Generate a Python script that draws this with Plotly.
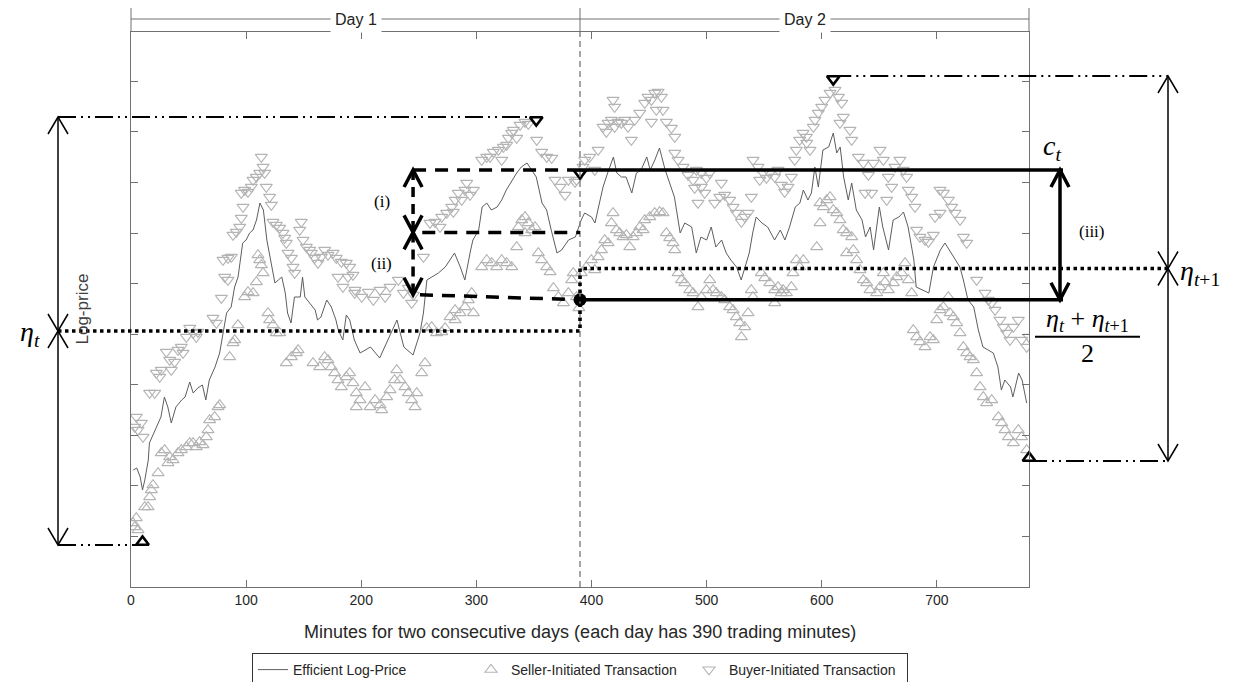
import plotly.graph_objects as go

# ------------------------------------------------------------------ data
DAY_LEN = 390
TOTAL_MIN = 780
day_names = ["Day 1", "Day 2"]
x_tick_values = [0, 100, 200, 300, 400, 500, 600, 700]

# efficient log-price (minute, value in arbitrary log-price units)
price_minutes = [2, 5, 8, 10, 12, 15, 16, 21, 24, 26, 29, 32, 35, 39, 44, 47, 51, 54, 58, 62,
                 65, 68, 73, 77, 80, 83, 87, 90, 93, 97, 100, 103, 106, 109, 112, 115, 118, 121, 125, 128,
                 131, 134, 136, 139, 142, 147, 149, 151, 155, 160, 162, 165, 170, 174, 178, 180, 184, 187, 190, 194,
                 199, 208, 216, 222, 231, 237, 245, 251, 254, 257, 261, 267, 273, 277, 281, 286, 290, 295, 297, 302,
                 305, 309, 313, 318, 322, 326, 331, 335, 339, 344, 348, 352, 357, 361, 365, 370, 374, 380, 386, 391,
                 394, 400, 403, 406, 410, 414, 419, 422, 426, 430, 435, 439, 443, 448, 451, 455, 459, 464, 468, 472,
                 477, 481, 487, 491, 495, 500, 504, 508, 513, 517, 521, 526, 530, 534, 537, 540, 543, 548, 553, 559,
                 564, 568, 572, 577, 581, 584, 588, 591, 594, 597, 601, 606, 610, 613, 616, 619, 623, 626, 630, 635,
                 638, 642, 645, 650, 653, 658, 662, 667, 671, 675, 680, 682, 687, 693, 697, 703, 707, 711, 716, 720,
                 723, 727, 732, 736, 740, 745, 749, 753, 756, 759, 764, 766, 771, 774, 778]
price_values = [117, 119, 110, 97, 107, 127, 144, 157, 164, 170, 190, 180, 164, 180, 187, 190, 205, 194, 199, 202,
                187, 207, 220, 234, 254, 274, 280, 300, 310, 344, 347, 354, 357, 367, 384, 377, 347, 327, 304, 307,
                310, 294, 274, 264, 290, 290, 310, 290, 284, 277, 267, 270, 287, 280, 267, 257, 247, 272, 267, 247,
                234, 240, 229, 244, 267, 240, 232, 254, 274, 307, 310, 314, 320, 327, 334, 320, 307, 337, 347, 357,
                380, 384, 377, 380, 387, 397, 407, 414, 420, 424, 417, 410, 384, 377, 357, 334, 337, 347, 350, 367,
                374, 370, 364, 380, 400, 414, 430, 414, 410, 410, 394, 414, 417, 430, 417, 427, 439, 417, 404, 390,
                354, 364, 360, 334, 350, 347, 360, 340, 347, 334, 327, 320, 307, 324, 334, 354, 370, 364, 360, 347,
                357, 347, 360, 380, 384, 397, 387, 394, 420, 400, 437, 440, 454, 434, 440, 410, 387, 404, 377, 367,
                350, 360, 337, 380, 360, 337, 367, 370, 375, 360, 327, 300, 297, 294, 320, 337, 344, 337, 327, 320,
                307, 287, 280, 257, 240, 237, 234, 220, 197, 207, 200, 190, 214, 207, 184]

# seller-initiated transactions
seller_minutes = [1.7, 4.6, 3.2, 6.1, 10, 11.9, 14.8, 16.2, 17.7, 19.1, 23.5, 26.3, 29.2, 32.1, 33.6, 36.5, 40.8, 43.7,
                  48.1, 51.0, 53.9, 56.7, 59.6, 62.5, 65.4, 66.9, 68.3, 72.7, 75.6, 77.0, 85.7, 88.6, 90.0, 92.9,
                  98.7, 101.6, 106.0, 108.9, 110.3, 111.8, 113.2, 114.7, 119.0, 120.4, 123.3, 126.2, 129.1, 134.9,
                  139.3, 143.6, 145.1, 158.1, 163.9, 168.2, 171.1, 174.0, 176.9, 179.8, 182.7, 187.0, 189.9, 192.8,
                  195.7, 195.7,
                  198.9, 203.3, 207.6, 212, 216.3, 217.8, 222.1, 225, 228.9, 230.8, 233.7, 238, 240.9, 243.8, 246.7,
                  248.2, 252.5, 255.4, 256.8, 261.2, 265.5, 269.9, 272.8, 277.1, 281.5, 285.8, 290.1, 293, 295.9,
                  297.4, 281.5, 304.6, 309, 313.3, 317.6, 322, 326.3, 330.7, 335, 336.5, 339.4, 342.3, 345.1, 348,
                  350.9, 342.3, 353.8, 356.7, 361.1, 364, 366.9, 371.2, 375.6, 379.9, 382.8, 384.2, 387, 389,
                  391.2, 395.5, 399.9, 402.8, 405.7, 408.6, 411.5, 414.4, 417.3, 418.7, 421.6, 424.5, 427.4, 430.3,
                  433.2, 436.1, 439, 441.9, 444.8, 446.2, 450.6, 454.9, 459.2, 462.1, 465, 467.9, 470.8, 472.3,
                  475.2, 478.1, 481, 485.3, 488.2, 492.5, 495.4, 499.8, 502.7, 505.6, 508.4, 512.8, 515.7, 520, 523,
                  525.8, 528.7, 530.2, 533.1, 536, 538.8, 540.3, 547.5, 550.4, 554.8, 559.1, 562, 566.4, 569.3,
                  573.6, 575, 577.9, 580.8, 559.1, 564.9,
                  584, 595.6, 598.5, 601.4, 604.3, 607.2, 610, 613, 598.5, 615.8, 618.7, 621.6, 626, 621.6, 627.4,
                  630.3, 633.2, 636.1, 639, 641.9, 647.7, 650.6, 654.9, 657.8, 662.2, 665.1, 669.4, 672.3, 675.2,
                  678.1, 653.5, 679.5, 682.4, 685.3, 689.7, 694, 696.9, 699.8, 702.7, 705.6, 709.9, 711.4, 714.3,
                  717.2, 720.1, 723, 725.9, 728.8, 731.7, 734.5, 737.5, 740.3, 743.2, 747.6, 753.4, 756.3, 759.2,
                  762.1, 766.4, 770.7, 773.6, 778, 780]
seller_prices = [64, 69, 60, 57, 45, 80, 80, 90, 97, 102, 114, 134, 137, 124, 130, 127, 134, 137,
                 140, 144, 144, 140, 145, 142, 150, 157, 167, 170, 180, 182, 230, 244, 247, 262,
                 290, 295, 294, 305, 332, 327, 322, 314, 274, 267, 262, 254, 254, 224,
                 230, 234, 237, 224, 220, 230, 227, 220, 214, 207, 200, 210, 214, 204,
                 194, 180,
                 187, 200, 180, 187, 182, 177, 190, 197, 207, 217, 207, 200, 194, 187, 180,
                 194, 214, 224, 259, 260, 254, 255, 259, 270, 277, 274, 280, 287, 294,
                 274, 267, 320, 327, 324, 320, 327, 324, 320, 340, 360, 367, 370, 364, 357,
                 360, 354, 334, 327, 320, 315, 299, 290, 284, 294, 307, 314, 290, 279,
                 314, 320, 327, 317, 330, 337, 347, 344, 364, 374, 357, 354, 350, 352,
                 340, 350, 354, 360, 357, 367, 370, 374, 375, 374, 354, 349, 344, 337,
                 314, 307, 304, 297, 294, 280, 290, 297, 307, 297, 294, 290, 287, 280, 277,
                 270, 264, 250, 260, 274, 297, 290, 314, 309, 304, 297, 300, 297, 294,
                 300, 314, 327, 320, 284, 294,
                 327, 340, 364, 380, 387, 390, 377, 374, 384, 367, 357, 354, 350, 334, 337,
                 327, 317, 307, 304, 297, 294, 300, 305, 297, 304, 310, 314, 324, 307,
                 294, 314, 257, 250, 245, 240, 250, 247, 267, 277, 280, 290, 274, 270,
                 264, 254, 240, 234, 230, 227, 214, 200, 190, 184, 187, 170, 164, 157,
                 150, 144, 157, 150, 137, 129]

# buyer-initiated transactions
buyer_minutes = [4.6, 9.0, 6.1, 10.4, 3.2, 16.2, 20.6, 22.0, 24.9, 26.3, 30.7, 33.6, 35.0, 37.9, 40.8, 43.7, 45.2,
                 48.1, 51.0, 53.9, 56.7, 58.2, 71.2, 74.1, 78.5, 81.4, 84.2, 79.9, 84.2, 87.1, 88.6, 91.5, 94.4,
                 95.8, 97.3, 95.8, 98.7, 101.6, 104.5, 106.0, 108.9, 111.8, 114.7, 116.1, 113.2, 117.5, 120.4,
                 121.9, 123.3, 126.2, 129.1, 132.0, 133.5, 134.9, 136.4, 139.3, 140.7, 142.2, 147.9, 146.5, 149.4,
                 152.3, 155.2, 156.6, 159.5, 162.4, 165.3, 168.2, 171.1, 175.5, 178.3, 182.7, 187.0, 189.9, 179.8,
                 184.1, 188.5, 192.8, 194.3,
                 194.6, 200.4, 206.2, 210.5, 216.3, 220.7, 225, 232.2, 236.6, 240.9, 243.8, 245.3, 254, 259.7,
                 264.1, 268.4, 269.9, 274.2, 278.6, 281.5, 280, 284.3, 287.2, 290.1, 294.5, 291.6, 297.4, 304.6,
                 309, 311.9, 314.7, 319.1, 322, 323.4, 326.3, 327.8, 330.7, 332.1, 335, 337.9, 342.3, 345.1, 352,
                 352.4, 356.7, 361.1, 365.4, 368.3, 372.7, 377, 379.9, 385.7, 387, 390,
                 392.6, 394.1, 398.4, 402.8, 405.7, 410, 414.4, 417.3, 420.1, 423, 425.9, 428.8, 431.7, 434.6,
                 437.5, 412.9, 418.7, 420.1, 441.9, 446.2, 449.1, 452, 454.9, 457.8, 460.7, 456.3, 452, 462.1, 465,
                 469.4, 472.3, 472.3, 475.2, 479.5, 483.8, 488.2, 491.1, 495.4, 499.8, 502.7, 489.6, 495.4, 492.5,
                 498.3, 507, 511.4, 515.7, 520, 523, 525.8, 530.2, 533.1, 536, 538.8, 512.8, 540.3, 544.6, 549,
                 551.9, 554.8, 559.1, 562, 564.9, 567.8, 570.7, 573.6, 546.1, 576.5, 577.9, 580.8, 583.7, 586.6,
                 586.9, 589.8, 592.7, 594.1, 597, 599.9, 602.8, 607.2, 610, 611.5, 614.4, 617.3, 618.7, 615.8,
                 624.5, 626, 631.8, 636.1, 640.5, 644.8, 650.6, 653.5, 657.8, 660.7, 663.6, 667.9, 670.8, 673.7,
                 675.2, 678.1, 681, 637.6, 643.3, 656.4, 682.4, 685.3, 689.7, 692.6, 696.9, 698.4, 702.7, 705.6,
                 709.9, 712.8, 715.7, 720.1, 723, 725.9, 702.7, 734.5, 741.8, 744.7, 747.6, 750.5, 754.8, 757.7,
                 760.6, 763.5, 766.4, 770.7, 773.6, 778, 780]
buyer_prices = [170, 164, 157, 150, 160, 194, 194, 214, 210, 217, 235, 227, 217, 225, 237, 240, 234,
                250, 259, 254, 250, 255, 269, 264, 289, 310, 307, 327, 329, 330, 352, 355, 360,
                369, 380, 394, 397, 395, 400, 407, 410, 414, 420, 414, 430, 400, 390,
                382, 365, 362, 359, 354, 349, 344, 334, 329, 320, 314, 365, 357, 347,
                340, 337, 334, 329, 324, 330, 337, 332, 334, 329, 325, 324, 320, 310,
                300, 310, 312, 294,
                297, 290, 295, 287, 297, 290, 300, 307, 294, 299, 284, 292, 330, 364,
                365, 360, 370, 374, 380, 387, 375, 394, 387, 397, 392, 404, 397, 427,
                430, 430, 435, 437, 427, 440, 442, 449, 454, 457, 449, 462, 465, 463, 467,
                447, 435, 430, 429, 407, 400, 392, 407, 405, 407, 414,
                420, 427, 430, 417, 437, 460, 464, 467, 460, 465, 464, 467, 460, 447,
                467, 455, 487, 480, 474, 484, 490, 487, 494, 495, 490, 477, 465, 477, 465,
                459, 450, 434, 427, 420, 412, 407, 417, 414, 409, 414, 399, 400, 384,
                394, 384, 390, 392, 387, 380, 374, 365, 370, 374, 390, 404, 427, 420, 414,
                409, 414, 410, 417, 402, 395, 400, 410, 407, 427, 437, 447, 454, 450,
                444, 437, 460, 467, 474, 480, 487, 494, 508, 497, 490, 484, 470, 464,
                457, 447, 430, 424, 412, 424, 437, 427, 410, 400, 420, 427, 417, 410,
                397, 390, 380, 394, 394, 387, 357, 350, 347, 345, 352, 370, 397, 394,
                387, 380, 374, 367, 350, 344, 374, 307, 294, 287, 284, 277, 267, 260,
                254, 247, 260, 267, 247, 240, 250]

# ------------------------------------------------------------------ derived quantities
buys = list(zip(buyer_minutes, buyer_prices))
sells = list(zip(seller_minutes, seller_prices))
b1 = [t for t in buys if t[0] <= DAY_LEN]
b2 = [t for t in buys if t[0] > DAY_LEN]
s1 = [t for t in sells if t[0] <= DAY_LEN]
s2 = [t for t in sells if t[0] > DAY_LEN]
hi1 = max(b1, key=lambda t: t[1])
lo1 = min(s1, key=lambda t: t[1])
hi2 = max(b2, key=lambda t: t[1])
lo2 = min(s2, key=lambda t: t[1])
close1 = max(b1, key=lambda t: t[0])
eta_t = (hi1[1] + lo1[1]) / 2
eta_t1 = (hi2[1] + lo2[1]) / 2
mid = (eta_t + eta_t1) / 2
c_t = close1[1]

# ------------------------------------------------------------------ geometry
PAGE_OFFSET = 8            # the page body margin shifts the figure by this many px
W, H = 1238 - PAGE_OFFSET, 682 - PAGE_OFFSET
PLOT_LEFT, PLOT_TOP = 131, 32          # plot position in the window
PW, PH = 898, 555
ML, MT = PLOT_LEFT - PAGE_OFFSET, PLOT_TOP - PAGE_OFFSET
MR, MB = W - ML - PW, H - MT - PH
Y_RANGE = [0, 555]
EDGE = 3  # pixel offset from a triangle's centre to its flat edge


def X(m):
    return m / TOTAL_MIN


def Y(v):
    return (v - Y_RANGE[0]) / (Y_RANGE[1] - Y_RANGE[0])


def dx(p):
    return p / PW


def dy(p):
    return p / PH


AX = "#707070"
BLACK = "black"
TRI = "#b4b4b4"
X_LEFT = dx(58 - PLOT_LEFT)
X_RIGHT = 1 + dx(139)
X_III = 1 + dx(31)
X_SOLID_END = 1 + dx(34)
X_ARR = X(245)

hi1_y = hi1[1] + EDGE
lo1_y = lo1[1] - EDGE
hi2_y = hi2[1] + EDGE
lo2_y = lo2[1] - EDGE
ct_y = c_t + EDGE
ii_bot = mid + 5
i_mid = (ct_y + ii_bot) / 2

fig = go.Figure()
fig.add_trace(go.Scatter(x=price_minutes, y=price_values, mode="lines",
                         line=dict(color="#5e5e5e", width=1), name="Efficient Log-Price"))
fig.add_trace(go.Scatter(x=seller_minutes, y=seller_prices, mode="markers",
                         marker=dict(symbol="triangle-up-open", size=10.5, color=TRI, line=dict(width=1.1)),
                         name="Seller-Initiated Transaction"))
fig.add_trace(go.Scatter(x=buyer_minutes, y=buyer_prices, mode="markers",
                         marker=dict(symbol="triangle-down-open", size=10.5, color=TRI, line=dict(width=1.1)),
                         name="Buyer-Initiated Transaction"))
# highlighted trades
fig.add_trace(go.Scatter(x=[hi1[0], hi2[0], close1[0]], y=[hi1[1], hi2[1], close1[1]], mode="markers",
                         marker=dict(symbol="triangle-down-open", size=11, color=BLACK, line=dict(width=2.6)),
                         showlegend=False))
fig.add_trace(go.Scatter(x=[lo1[0], lo2[0]], y=[lo1[1], lo2[1]], mode="markers",
                         marker=dict(symbol="triangle-up-open", size=11, color=BLACK, line=dict(width=2.6)),
                         showlegend=False, cliponaxis=False))
fig.add_trace(go.Scatter(x=[DAY_LEN], y=[mid], mode="markers",
                         marker=dict(symbol="circle", size=13, color=BLACK), showlegend=False))

shapes = []


def line(x0, y0, x1, y1, width=1, color=BLACK, dash="solid"):
    shapes.append(dict(type="line", xref="paper", yref="paper", x0=x0, y0=y0, x1=x1, y1=y1,
                       line=dict(color=color, width=width, dash=dash)))


def path(d, width=1, color=BLACK, dash="solid"):
    shapes.append(dict(type="path", xref="paper", yref="paper", path=d,
                       line=dict(color=color, width=width, dash=dash)))


def vee(x, y, up, width, hw=10, hl=17):
    s = 1 if up else -1
    path(f"M {x - dx(hw)},{y - s * dy(hl)} L {x},{y} L {x + dx(hw)},{y - s * dy(hl)}", width=width)


def double_arrow(x, top, bottom, width, dash="solid", hw=10, hl=17):
    line(x, top, x, bottom, width=width, dash=dash)
    vee(x, top, True, width, hw, hl)
    vee(x, bottom, False, width, hw, hl)


# day separator
line(X(DAY_LEN), 0, X(DAY_LEN), 1, width=1.4, color="#808080", dash="6px,4px")
# header with day labels
line(0, 1 + dy(13), 1, 1 + dy(13), width=1, color=AX)
for xx in (0, X(DAY_LEN), 1):
    line(xx, 1, xx, 1 + dy(24), width=1, color=AX)

DD = "18px,5px,2px,5px,2px,5px"
line(X_LEFT, Y(hi1_y), X(hi1[0]), Y(hi1_y), width=1.8, dash=DD)
line(X_LEFT, Y(lo1_y), X(lo1[0]), Y(lo1_y), width=1.8, dash=DD)
line(X(hi2[0]), Y(hi2_y), X_RIGHT, Y(hi2_y), width=1.8, dash=DD)
line(X(lo2[0]), Y(lo2_y), X_RIGHT, Y(lo2_y), width=1.8, dash=DD)

# eta levels (dotted step)
path(f"M {X_LEFT},{Y(eta_t)} L {X(DAY_LEN)},{Y(eta_t)} L {X(DAY_LEN)},{Y(eta_t1)} L {X_RIGHT},{Y(eta_t1)}",
     width=3.6, dash="3.5px,3.5px")

# closing price and midpoint (solid)
line(X(DAY_LEN), Y(ct_y), X_SOLID_END, Y(ct_y), width=3.5)
line(X(DAY_LEN), Y(mid), X_SOLID_END, Y(mid), width=3.5)

# dashed guides for (i) and (ii)
line(X_ARR, Y(ct_y), X(DAY_LEN), Y(ct_y), width=3.5, dash="13px,9px")
line(X(253), Y(i_mid), X(DAY_LEN), Y(i_mid), width=3.5, dash="13px,9px")
line(X(251), Y(ii_bot), X(DAY_LEN), Y(mid), width=3.5, dash="13px,9px")

# arrows
double_arrow(X_LEFT, Y(hi1_y), Y(eta_t), 1.5)
double_arrow(X_LEFT, Y(eta_t), Y(lo1_y), 1.5)
double_arrow(X_RIGHT, Y(hi2_y), Y(eta_t1), 1.5)
double_arrow(X_RIGHT, Y(eta_t1), Y(lo2_y), 1.5)
double_arrow(X_ARR, Y(ct_y), Y(i_mid), 3.5, dash="10px,7px", hw=9)
double_arrow(X_ARR, Y(i_mid), Y(ii_bot), 3.5, dash="10px,7px", hw=9)
double_arrow(X_III, Y(ct_y), Y(mid), 3.5, hw=9)

# fraction bar
line(1 + dx(6), Y(mid) - dy(37), 1 + dx(111), Y(mid) - dy(37), width=2)

MATH = "Liberation Serif"
annotations = []


def text(x, y, s, size, family=MATH, color=BLACK, xanchor="center", yanchor="middle", **kw):
    annotations.append(dict(x=x, y=y, xref="paper", yref="paper", text=s, showarrow=False,
                            xanchor=xanchor, yanchor=yanchor,
                            font=dict(family=family, size=size, color=color), **kw))


text(dx(30 - PLOT_LEFT), Y(eta_t) - dy(2), "<i>η</i><sub><i>t</i></sub>", 28)
text(X_RIGHT + dx(10), Y(eta_t1) - dy(4), "<i>η</i><sub><i>t</i>+1</sub>", 28, xanchor="left")
text(X_III - dx(8), Y(ct_y) + dy(23), "<i>c</i><sub><i>t</i></sub>", 28)
text(1 + dx(58), Y(mid) - dy(20), "<i>η</i><sub><i>t</i></sub> + <i>η</i><sub><i>t</i>+1</sub>", 26)
text(1 + dx(58), Y(mid) - dy(54), "2", 26)
text(X_III + dx(32), Y((ct_y + mid) / 2) + dy(3), "(iii)", 17)
text(X_ARR - dx(31), Y((ct_y + i_mid) / 2), "(i)", 17)
text(X_ARR - dx(32), Y((i_mid + ii_bot) / 2), "(ii)", 17)

SANS = "Liberation Sans"
for k, nm in enumerate(day_names):
    text(X(DAY_LEN * k + DAY_LEN / 2), 1 + dy(13), nm, 16, family=SANS, color="#222222",
         bgcolor="white", borderpad=4)
text(dx(82 - PLOT_LEFT), 0.5, "Log-price", 17, family=SANS, color="#404040", textangle=-90)
text(0.5, -dy(45), "Minutes for two consecutive days (each day has 390 trading minutes)", 18,
     family=SANS, color="#262626")

fig.update_layout(
    width=W, height=H, margin=dict(l=ML, r=MR, t=MT, b=MB, autoexpand=False),
    paper_bgcolor="white", plot_bgcolor="white",
    shapes=shapes, annotations=annotations,
    font=dict(family=SANS, color="#262626"),
    legend=dict(orientation="h", x=0.5, xanchor="center", y=-dy(66), yanchor="top",
                bordercolor="#333333", borderwidth=1, bgcolor="white",
                font=dict(size=14, family=SANS, color="#262626"), itemwidth=30,
                entrywidth=173, entrywidthmode="pixels"),
    showlegend=True,
)
fig.update_xaxes(range=[0, TOTAL_MIN], tickvals=x_tick_values, ticks="inside", ticklen=7,
                 tickcolor=AX, showline=True, linecolor=AX, linewidth=1, mirror="ticks",
                 showgrid=False, zeroline=False, tickfont=dict(size=14, color="#262626"))
fig.update_yaxes(range=Y_RANGE, tick0=0, dtick=50.56, ticks="inside", ticklen=7, tickcolor=AX,
                 showline=True, linecolor=AX, linewidth=1, mirror="ticks", showticklabels=False,
                 showgrid=False, zeroline=False)

fig.write_html("out.html")
